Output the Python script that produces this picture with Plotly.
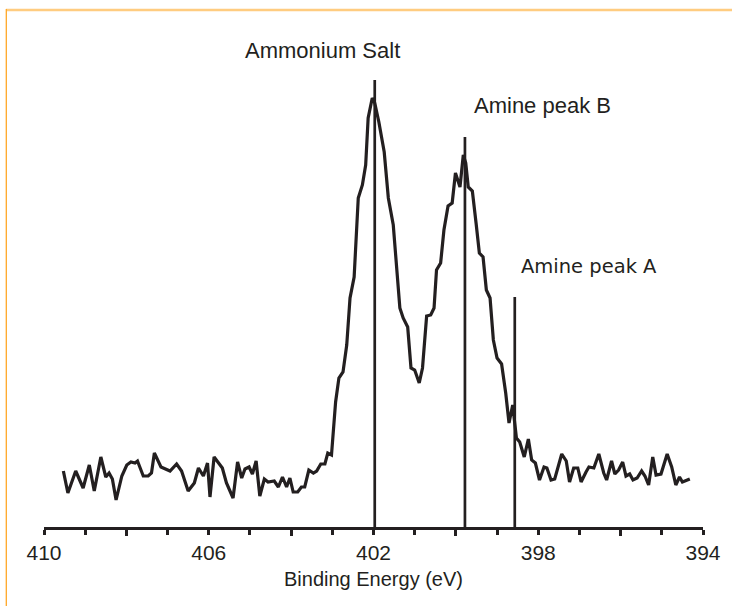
import plotly.graph_objects as go

# ---- data (binding energy in eV, intensity in arbitrary units) ----
energy = [409.53, 409.42, 409.23, 409.05, 408.90, 408.78, 408.62, 408.50, 408.42, 408.34,
          408.25, 408.11, 407.99, 407.89, 407.79, 407.73, 407.59, 407.47, 407.39, 407.32,
          407.16, 407.06, 406.94, 406.78, 406.66, 406.50, 406.35, 406.25, 406.13, 406.03,
          405.97, 405.87, 405.77, 405.67, 405.57, 405.41, 405.30, 405.20, 405.12, 405.02,
          404.94, 404.85, 404.76, 404.65, 404.56, 404.41, 404.31, 404.21, 404.11, 404.03,
          403.95, 403.84, 403.75, 403.67, 403.57, 403.46, 403.38, 403.28, 403.18, 403.11,
          403.02, 402.92, 402.84, 402.74, 402.65, 402.57, 402.47, 402.37, 402.27, 402.19,
          402.13, 402.03, 401.97, 401.87, 401.74, 401.64, 401.52, 401.44, 401.36, 401.28,
          401.17, 401.09, 401.00, 400.89, 400.81, 400.71, 400.61, 400.53, 400.47, 400.37,
          400.29, 400.19, 400.09, 400.01, 399.90, 399.82, 399.76, 399.70, 399.60, 399.51,
          399.43, 399.34, 399.26, 399.17, 399.09, 399.00, 398.89, 398.79, 398.71, 398.62,
          398.53, 398.45, 398.34, 398.24, 398.16, 398.07, 397.97, 397.86, 397.79, 397.69,
          397.60, 397.43, 397.32, 397.24, 397.14, 397.04, 396.96, 396.84, 396.77, 396.65,
          396.53, 396.41, 396.34, 396.22, 396.14, 396.05, 395.95, 395.87, 395.78, 395.70,
          395.60, 395.49, 395.41, 395.32, 395.22, 395.14, 395.02, 394.87, 394.76, 394.66,
          394.57, 394.50, 394.42, 394.32]
intensity = [56, 34, 56, 39, 62, 36, 70, 50, 54, 48,
             27, 51, 62, 65, 64, 66, 51, 51, 54, 74,
             60, 58, 56, 63, 56, 36, 44, 59, 51, 64,
             30, 70, 64, 59, 44, 29, 65, 49, 58, 60,
             53, 66, 31, 48, 45, 46, 40, 50, 40, 49,
             35, 35, 40, 40, 57, 54, 56, 63, 63, 74,
             72, 125, 149, 155, 182, 229, 250, 329, 342, 362,
             409, 429, 424, 405, 375, 329, 302, 255, 219, 209,
             200, 159, 157, 144, 159, 211, 212, 219, 257, 264,
             297, 321, 324, 354, 340, 372, 364, 340, 336, 304,
             274, 270, 237, 229, 187, 169, 163, 134, 104, 122,
             89, 85, 70, 88, 67, 64, 47, 60, 59, 47,
             48, 73, 66, 45, 59, 59, 45, 55, 60, 59,
             73, 54, 47, 66, 53, 57, 65, 51, 53, 47,
             49, 56, 51, 42, 70, 52, 53, 73, 60, 42,
             50, 45, 46, 48]

peak_names = ["Ammonium Salt", "Amine peak B", "Amine peak A"]
peak_positions = [401.97, 399.78, 398.57]
peak_heights = [447, 390, 230]

tick_values = [410, 409, 408, 407, 406, 405, 404, 403, 402, 401, 400, 399, 398, 397, 396, 395, 394]
tick_labels = ["410", "", "", "", "406", "", "", "", "402", "", "", "", "398", "", "", "", "394"]
long_tick_values = [408, 404, 400, 396]

# label anchors (left edge energy, vertical centre intensity)
label_x = [405.17, 399.61, 398.47]
label_y = [477, 422, 261]
label_fonts = ["Liberation Sans, Arial", "Liberation Sans, Arial", "DejaVu Sans, Verdana"]
label_sizes = [22, 22, 19.5]

INK = "#231f20"
W, H = 732, 606
ML, MR, MT, MB = 44, 29, 7, 79
Y_RANGE = [0, 520]

fig = go.Figure()

fig.add_trace(go.Scatter(x=energy, y=intensity, mode="lines",
                         line=dict(color=INK, width=3.2), hoverinfo="skip"))

for pos, h in zip(peak_positions, peak_heights):
    fig.add_trace(go.Scatter(x=[pos, pos], y=[0, h], mode="lines",
                             line=dict(color=INK, width=2.7), hoverinfo="skip"))

# invisible trace on overlay axis carrying the longer ticks
fig.add_trace(go.Scatter(x=[410, 394], y=[0, 0], mode="lines", xaxis="x2",
                         line=dict(width=0), opacity=0, hoverinfo="skip"))

for name, lx, ly, fam, sz in zip(peak_names, label_x, label_y, label_fonts, label_sizes):
    fig.add_annotation(x=lx, y=ly, xref="x", yref="y", text=name, showarrow=False,
                       xanchor="left", yanchor="middle",
                       font=dict(family=fam, size=sz, color=INK))

# decorative orange frame (top and left edges)
pw = W - ML - MR
ph = H - MT - MB
def px_to_paper_x(px):
    return (px - ML) / pw
def px_to_paper_y(py):
    return (H - MB - py) / ph

fig.add_shape(type="line", xref="paper", yref="paper",
              x0=px_to_paper_x(6), x1=px_to_paper_x(733),
              y0=px_to_paper_y(10), y1=px_to_paper_y(10),
              line=dict(color="#FFCC80", width=2.5))
fig.add_shape(type="line", xref="paper", yref="paper",
              x0=px_to_paper_x(6.3), x1=px_to_paper_x(6.3),
              y0=px_to_paper_y(9), y1=px_to_paper_y(607),
              line=dict(color="#FFA726", width=1.3))

fig.update_layout(
    width=W, height=H,
    margin=dict(l=ML, r=MR, t=MT, b=MB),
    paper_bgcolor="white", plot_bgcolor="white",
    showlegend=False,
    xaxis=dict(range=[410, 394], showgrid=False, zeroline=False,
               showline=True, linecolor=INK, linewidth=2.5,
               ticks="outside", tickmode="array", tickvals=tick_values, ticktext=tick_labels,
               ticklen=5, tickwidth=2.5, tickcolor=INK,
               tickfont=dict(family="Liberation Sans, Arial", size=21, color=INK),
               title=dict(text="Binding Energy (eV)", standoff=10,
                          font=dict(family="Liberation Sans, Arial", size=20, color=INK))),
    xaxis2=dict(range=[410, 394], overlaying="x", anchor="y", side="bottom",
                showgrid=False, zeroline=False, showline=False,
                ticks="outside", tickmode="array", tickvals=long_tick_values,
                ticklen=8, tickwidth=2.5, tickcolor=INK, showticklabels=False),
    yaxis=dict(range=Y_RANGE, visible=False, showgrid=False, zeroline=False),
)

fig.write_html("out.html")
